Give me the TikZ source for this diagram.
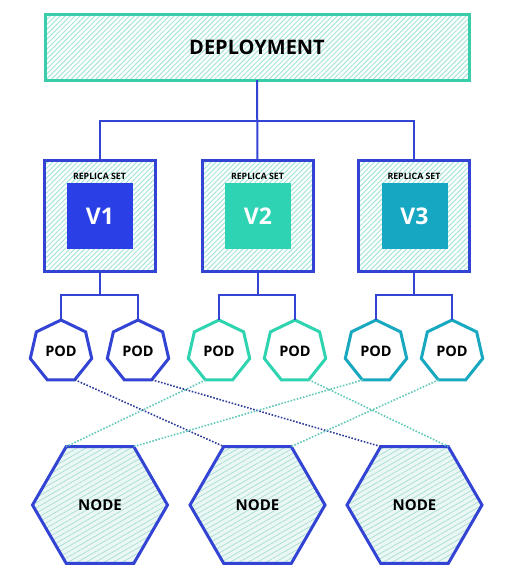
\documentclass[tikz,border=0pt]{standalone}
\usepackage{fontspec}
\setmainfont{Open Sans}
\usetikzlibrary{shapes.geometric,patterns.meta}
\definecolor{kblue}{HTML}{3344D4}
\definecolor{vone}{HTML}{2A40E6}
\definecolor{kgreen}{HTML}{2ED3B0}
\definecolor{vtwo}{HTML}{2ED3B3}
\definecolor{kcyan}{HTML}{18A8C0}
\definecolor{vthree}{HTML}{16A8C2}
\definecolor{depline}{HTML}{3ACDAA}
\definecolor{hatch}{HTML}{A6E4D8}
\definecolor{nodefill}{HTML}{EAF7F4}
\definecolor{nodedot}{HTML}{A8DDD2}
\definecolor{dotblue}{HTML}{2D3C9A}
\definecolor{dotteal}{HTML}{62C9B8}
\tikzset{
  hatched/.style={pattern={Lines[angle=45,distance=3.5pt,line width=1pt]},pattern color=hatch},
  depbox/.style={draw=depline,line width=3pt,hatched,minimum width=424pt,minimum height=65pt,inner sep=0pt,outer sep=0pt,font=\bfseries\fontsize{20}{22}\selectfont},
  rsbox/.style={draw=kblue,line width=3pt,hatched,minimum width=111pt,minimum height=111pt,inner sep=0pt,outer sep=0pt},
  vbox/.style={minimum width=66pt,minimum height=66pt,inner sep=0pt,text=white,font=\fontsize{23}{25}\selectfont\bfseries},
  rslabel/.style={inner sep=0pt,font=\bfseries\fontsize{8.8}{9}\selectfont},
  conn/.style={draw=kblue,line width=2pt},
  podshape/.style={regular polygon,regular polygon sides=7,minimum size=63pt,inner sep=0pt,outer sep=0pt,line width=3pt,fill=white,font=\bfseries\fontsize{14.5}{15}\selectfont},
  hostshape/.style={regular polygon,regular polygon sides=6,minimum size=135pt,inner sep=0pt,outer sep=0pt,draw=kblue,line width=3pt,
     preaction={fill=nodefill},pattern={Lines[angle=30,distance=4.5pt,line width=0.7pt]},pattern color=nodedot,font=\bfseries\fontsize{15}{16}\selectfont},
  dotline/.style={line width=1.6pt,dash pattern=on 1.6pt off 1.6pt},
}
\begin{document}
\begin{tikzpicture}[x=1pt,y=-1pt]
\useasboundingbox (0,0) rectangle (511,586);
% deployment
\node[depbox] (dep) at (257,47.5) {DEPLOYMENT};
% replica sets
\node[rsbox] (rs1) at (99.5,215.5) {};
\node[rsbox] (rs2) at (257.5,215.5) {};
\node[rsbox] (rs3) at (414,215.5) {};
\node[rslabel] (l1) at (99.5,176) {REPLICA SET};
\node[rslabel] (l2) at (257.5,176) {REPLICA SET};
\node[rslabel] (l3) at (414,176) {REPLICA SET};
\node[vbox,fill=vone] (v1) at (100,216) {V1};
\node[vbox,fill=vtwo] (v2) at (258,216) {V2};
\node[vbox,fill=vthree] (v3) at (414.5,216) {V3};
% pods
\node[podshape,draw=kblue] (p1) at (61,351.5) {POD};
\node[podshape,draw=kblue] (p2) at (138,351.5) {POD};
\node[podshape,draw=kgreen] (p3) at (219,351.5) {POD};
\node[podshape,draw=kgreen] (p4) at (295,351.5) {POD};
\node[podshape,draw=kcyan] (p5) at (376,351.5) {POD};
\node[podshape,draw=kcyan] (p6) at (452,351.5) {POD};
% hosts
\node[hostshape] (n1) at (100,505) {NODE};
\node[hostshape] (n2) at (257.5,505) {NODE};
\node[hostshape] (n3) at (414.5,505) {NODE};
% tree connectors
\coordinate (j0) at (257,121);
\coordinate (j1) at (99.5,295);
\coordinate (j2) at (257.5,295);
\coordinate (j3) at (414,295);
\draw[conn] (dep.south) -- (rs2.north);
\draw[conn] (rs1.north) |- (j0) -| (rs3.north);
\draw[conn] (rs1.south) -- (j1);
\draw[conn] (rs2.south) -- (j2);
\draw[conn] (rs3.south) -- (j3);
\draw[conn] (p1.north) |- (j1) -| (p2.north);
\draw[conn] (p3.north) |- (j2) -| (p4.north);
\draw[conn] (p5.north) |- (j3) -| (p6.north);
% dotted scheduling lines
\draw[dotline,draw=dotblue] (p1.-64.29) -- (n2.120);
\draw[dotline,draw=dotblue] (p2.-64.29) -- (n3.120);
\draw[dotline,draw=dotteal] (p3.-115.71) -- (n1.120);
\draw[dotline,draw=dotteal] (p4.-64.29) -- (n3.60);
\draw[dotline,draw=dotteal] (p5.-115.71) -- (n1.60);
\draw[dotline,draw=dotteal] (p6.-115.71) -- (n2.60);
\end{tikzpicture}
\end{document}
